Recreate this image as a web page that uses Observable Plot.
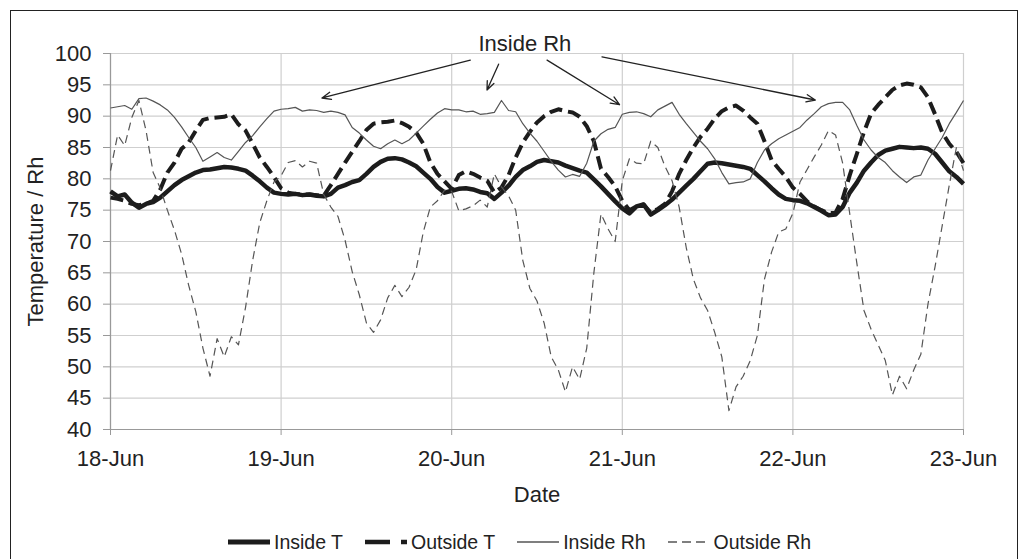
<!DOCTYPE html>
<html>
<head>
<meta charset="utf-8">
<script src="https://cdn.jsdelivr.net/npm/d3@7"></script>
<script src="https://cdn.jsdelivr.net/npm/@observablehq/plot@0.6"></script>
<style>
  html, body { margin: 0; padding: 0; background: #fff; }
  body { width: 1019px; height: 559px; overflow: hidden; position: relative; font-family: "Liberation Sans", Arial, sans-serif; }
  #frame { position: absolute; left: 10px; top: 10px; width: 1006px; height: 560px; border: 1.5px solid #222; box-sizing: content-box; }
  #chart svg { display: block; }
  #legend { position: absolute; left: 217px; top: 520px; display: flex; align-items: center; gap: 22px; font-size: 19.5px; color: #222; line-height: 22px; }
  .item { display: flex; align-items: center; gap: 4px; }
</style>
</head>
<body>
<div id="frame">
  <div id="chart"></div>
  <div id="legend"></div>
</div>
<script>
// ---- Data (hourly readings, 18-Jun 00:00 to 23-Jun 00:00) ----
const seriesNames = ["Inside T", "Outside T", "Inside Rh", "Outside Rh"];

const insideT = [
  78.0,77.2,77.5,76.2,75.4,76.0,76.3,77.0,78.0,79.0,79.8,80.4,81.0,81.4,81.5,81.7,81.9,81.8,81.6,81.3,80.5,79.6,78.6,77.8,
  77.6,77.5,77.6,77.4,77.5,77.3,77.2,77.6,78.6,79.0,79.5,79.8,80.8,81.9,82.7,83.2,83.3,83.1,82.6,82.0,81.0,80.0,78.7,77.8,
  78.1,78.4,78.5,78.3,77.9,77.7,76.8,77.8,78.9,80.3,81.4,82.0,82.7,83.0,82.8,82.6,82.1,81.7,81.3,81.0,79.9,78.8,77.6,76.4,
  75.3,74.5,75.6,75.9,74.3,75.0,75.8,76.7,77.8,78.9,80.0,81.2,82.4,82.6,82.5,82.3,82.1,81.9,81.6,80.6,79.6,78.5,77.5,76.8,
  76.6,76.5,76.1,75.5,74.9,74.2,74.3,75.5,77.8,79.4,81.3,82.6,83.8,84.5,84.8,85.1,85.0,84.9,85.0,84.8,84.0,82.6,81.2,80.3,79.2
];
const outsideT = [
  77.0,76.8,76.5,76.0,75.8,76.0,76.5,78.3,81.0,82.6,84.8,85.8,87.7,89.4,89.7,89.8,89.9,90.3,88.7,87.7,85.6,83.4,81.9,80.3,
  78.5,77.8,77.6,77.5,77.5,77.4,77.3,79.0,80.8,82.6,84.3,86.0,87.8,88.8,89.0,89.1,89.3,88.9,88.3,87.4,85.6,82.6,80.8,79.6,
  78.4,80.6,81.2,80.8,80.2,79.7,77.8,78.6,80.6,83.4,85.8,87.5,89.0,90.0,90.7,91.1,90.8,90.6,89.9,88.4,86.0,81.6,80.3,78.8,
  76.5,75.0,75.6,75.9,74.6,75.2,76.0,78.0,80.8,83.0,85.0,86.7,88.0,89.6,90.8,91.4,91.7,90.9,89.8,88.8,86.0,83.0,81.6,80.3,
  78.6,77.6,76.4,75.6,75.0,74.5,74.6,76.8,80.6,84.0,87.5,90.4,91.8,93.0,94.2,94.9,95.2,95.0,94.6,93.0,90.3,87.4,85.6,84.3,82.5
];
const insideRh = [
  91.3,91.5,91.7,91.1,92.8,92.9,92.4,91.8,91.0,89.8,88.3,86.6,85.0,82.8,83.5,84.2,83.4,83.0,84.4,85.8,86.9,88.3,89.6,90.8,
  91.1,91.2,91.4,90.8,91.0,90.9,90.6,90.8,90.6,90.2,88.2,87.3,86.2,85.2,84.8,85.6,86.2,85.6,86.2,87.3,88.4,89.5,90.5,91.2,
  91.0,91.0,90.7,90.8,90.3,90.4,90.6,92.5,90.9,90.7,88.8,87.3,86.0,84.4,82.8,81.4,80.3,80.7,80.4,82.5,86.0,87.2,87.9,88.2,
  90.3,90.6,90.7,90.4,89.9,91.0,91.6,92.2,90.3,88.8,87.4,86.0,84.8,83.2,81.0,79.2,79.4,79.5,80.0,82.6,84.6,85.6,86.4,87.0,
  87.6,88.2,89.4,90.4,91.5,92.0,92.2,92.2,91.0,88.5,86.2,84.6,83.4,82.6,81.3,80.3,79.4,80.3,80.6,83.0,84.8,86.6,88.8,90.6,92.5
];
const outsideRh = [
  81.3,87.0,85.3,89.8,92.5,87.7,81.0,78.5,75.0,71.8,68.0,63.0,58.8,53.0,48.5,54.5,51.6,54.8,53.5,59.5,67.0,73.0,76.5,79.5,
  80.5,82.6,82.9,81.9,82.8,82.5,77.5,75.5,74.0,70.2,65.2,61.5,57.0,55.5,57.5,61.0,63.0,61.2,62.7,65.5,71.5,75.5,76.5,78.2,
  78.0,74.9,75.2,75.7,76.6,75.5,80.8,78.7,77.3,75.0,67.0,62.5,60.5,57.0,51.6,49.5,46.0,50.0,48.0,53.0,65.0,74.4,72.0,70.0,
  79.7,83.2,82.5,82.4,86.0,85.0,82.0,79.7,75.5,69.0,64.0,61.0,59.0,55.5,51.6,43.0,46.8,48.5,51.0,55.0,64.0,68.3,71.5,72.0,
  74.5,79.5,81.5,83.5,85.4,87.7,87.0,82.5,74.4,66.5,59.0,56.0,53.5,51.0,45.5,48.5,46.5,49.5,52.0,60.0,66.0,72.5,79.0,85.0,81.3
];

const tickLabels = ["18-Jun", "19-Jun", "20-Jun", "21-Jun", "22-Jun", "23-Jun"];
const yTicks = [40, 45, 50, 55, 60, 65, 70, 75, 80, 85, 90, 95, 100];

// annotation: "Inside Rh" label and arrows (in days since 18-Jun and chart values)
const annotationText = "Inside Rh";
const annotationDay = [2.429];
const annotationValue = [101.55];
const arrowFromDay = [2.109, 2.275, 2.559, 2.881];
const arrowFromValue = [98.95, 98.3, 98.95, 99.47];
const arrowToDay = [1.240, 2.207, 2.984, 4.131];
const arrowToValue = [92.9, 94.17, 91.83, 92.58];

// ---- Build tables ----
const HOUR = 3600e3, DAY = 24 * HOUR;
const start = Date.UTC(2012, 5, 18);
const toDate = d => new Date(start + d * DAY);
const dayTicks = tickLabels.map((_, i) => toDate(i));
const mk = (arr, name) => arr.map((v, i) => ({t: new Date(start + i * HOUR), v, s: name}));
const data = [insideT, outsideT, insideRh, outsideRh].map((a, i) => mk(a, seriesNames[i]));
const arrows = arrowFromDay.map((d, i) => ({
  x1: toDate(d), y1: arrowFromValue[i], x2: toDate(arrowToDay[i]), y2: arrowToValue[i]
}));

const styles = {
  "Inside T":  {stroke: "#1c1c1c", strokeWidth: 4.5, dash: null},
  "Outside T": {stroke: "#1c1c1c", strokeWidth: 4, dash: "13,6"},
  "Inside Rh": {stroke: "#555", strokeWidth: 1.2, dash: null},
  "Outside Rh":{stroke: "#555", strokeWidth: 1.2, dash: "8,5"}
};
const legendDash = {"Inside T": null, "Outside T": "25,11", "Inside Rh": null, "Outside Rh": "9,5"};

const lineMarks = seriesNames.map((name, i) => Plot.line(data[i], {
  x: "t", y: "v", stroke: styles[name].stroke, strokeWidth: styles[name].strokeWidth,
  strokeDasharray: styles[name].dash, strokeLinejoin: "round", strokeLinecap: "butt"
}));

const chart = Plot.plot({
  width: 1006, height: 500,
  marginLeft: 99, marginRight: 54, marginTop: 42, marginBottom: 82,
  style: {fontFamily: "'Liberation Sans', Arial, sans-serif", fontSize: "22px", color: "#222", background: "transparent"},
  x: {type: "utc", domain: [dayTicks[0], dayTicks[dayTicks.length - 1]]},
  y: {domain: [40, 100]},
  marks: [
    Plot.gridY(yTicks, {stroke: "#cfcfcf", strokeOpacity: 1, strokeWidth: 1.2}),
    Plot.gridX(dayTicks, {stroke: "#cfcfcf", strokeOpacity: 1, strokeWidth: 1.2}),
    Plot.axisY(yTicks, {tickSize: 7, tickPadding: 12, stroke: "#999", fill: "#222", label: null, fontSize: 22}),
    Plot.axisX(dayTicks, {tickSize: 6, tickPadding: 15, stroke: "#999", fill: "#222", label: null, fontSize: 22,
      tickFormat: d => tickLabels[dayTicks.findIndex(t => +t === +d)]}),
    Plot.ruleY([40], {stroke: "#999", strokeWidth: 1.2}),
    Plot.ruleX([dayTicks[0]], {stroke: "#999", strokeWidth: 1.2}),
    ...lineMarks,
    Plot.text(["Temperature / Rh"], {frameAnchor: "left", dx: -75, rotate: -90, textAnchor: "middle", lineAnchor: "middle", fontSize: 22, fill: "#222"}),
    Plot.text(["Date"], {frameAnchor: "bottom", dy: 65, textAnchor: "middle", lineAnchor: "middle", fontSize: 22, fill: "#222"}),
    Plot.text([annotationText], {x: [toDate(annotationDay[0])], y: annotationValue, fontSize: 22, fill: "#222", lineAnchor: "middle"}),
    Plot.arrow(arrows, {x1: "x1", y1: "y1", x2: "x2", y2: "y2", stroke: "#222", strokeWidth: 1.3, headLength: 11, headAngle: 45})
  ]
});
document.getElementById("chart").appendChild(chart);

// ---- Legend ----
const legend = d3.select("#legend");
seriesNames.forEach(name => {
  const it = legend.append("div").attr("class", "item");
  const sw = it.append("svg").attr("width", 42).attr("height", 10);
  sw.append("line").attr("x1", 0).attr("x2", 42).attr("y1", 5).attr("y2", 5)
    .attr("stroke", styles[name].stroke).attr("stroke-width", styles[name].strokeWidth + (name.endsWith("T") ? 0.5 : 0.3))
    .attr("stroke-dasharray", legendDash[name]);
  it.append("span").text(name);
});
</script>
</body>
</html>
